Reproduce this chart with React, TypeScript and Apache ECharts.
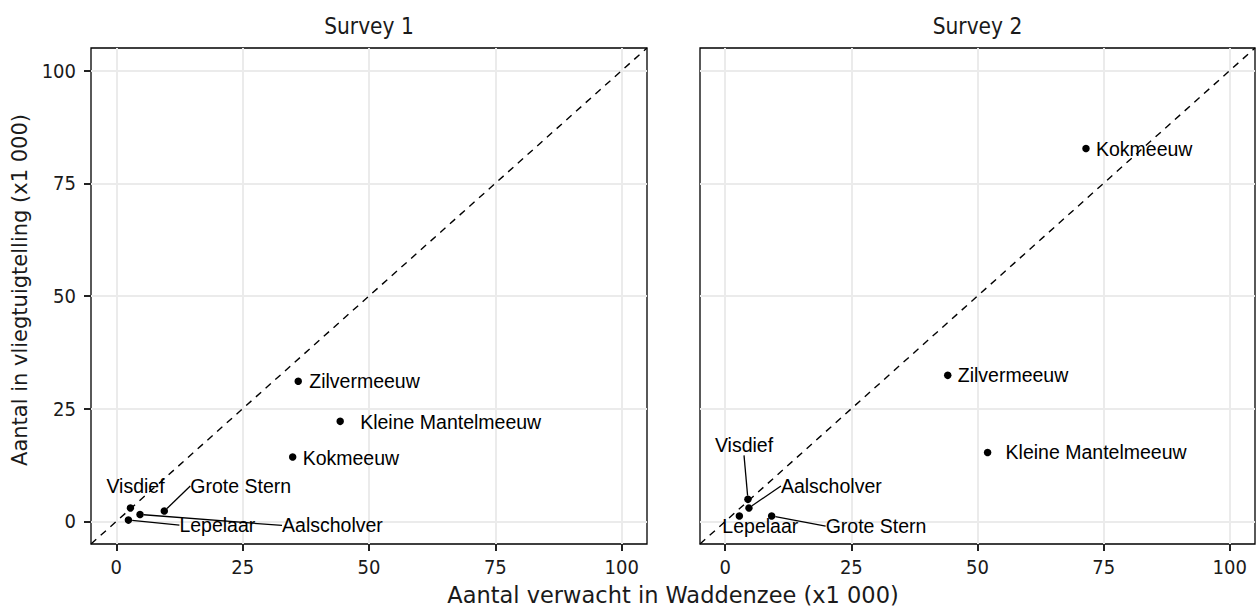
import React, { useEffect, useRef } from "react";
import * as echarts from "echarts";

// Axis range and tick positions shared by both panels (x1 000 birds)
const LIMITS = [-5, 105];
const TICKS = [0, 25, 50, 75, 100];

const SPECIES = [
  "Zilvermeeuw",
  "Kleine Mantelmeeuw",
  "Kokmeeuw",
  "Visdief",
  "Grote Stern",
  "Aalscholver",
  "Lepelaar",
];

// Survey 1: expected in the Waddenzee vs counted from the plane
const S1_EXPECTED = [36.0, 44.3, 34.9, 2.8, 9.5, 4.7, 2.4];
const S1_COUNTED = [31.1, 22.2, 14.3, 3.0, 2.3, 1.55, 0.3];

// Survey 2
const S2_EXPECTED = [44.1, 52.0, 71.5, 4.5, 9.2, 4.7, 2.8];
const S2_COUNTED = [32.4, 15.3, 82.7, 4.9, 1.2, 3.0, 1.2];

// Label placement (pixel offset from the point to the label's left-middle)
const S1_LABEL_OFFSET = [[11, 0], [20, 1], [10, 1], [-24, -22], [26, -25], [142, 11], [51, 5]];
const S2_LABEL_OFFSET = [[10, 0], [18, 0], [10, 0], [-33, -54], [54, 10], [32, -22], [-17, 10]];
const S1_LEADER = [false, false, false, false, true, true, true];
const S2_LEADER = [false, false, false, true, true, true, false];

const AXIS_FONT = "'DejaVu Sans Condensed', 'DejaVu Sans', sans-serif";
const TITLE_FONT = "'DejaVu Sans', sans-serif";
const LABEL_FONT = "'Liberation Sans', Arial, sans-serif";

const GRIDS = [
  { left: 91, top: 48, width: 556, height: 496 },
  { left: 700, top: 48, width: 555, height: 496 },
];

function pointSeries(
  idx: number,
  xs: number[],
  ys: number[],
  offsets: number[][],
  leaders: boolean[]
) {
  return {
    type: "scatter",
    xAxisIndex: idx,
    yAxisIndex: idx,
    symbol: "circle",
    symbolSize: 7.5,
    itemStyle: { color: "#000", opacity: 1 },
    z: 5,
    data: SPECIES.map((name, i) => ({
      name,
      value: [xs[i], ys[i]],
      labelLine: { show: leaders[i] },
    })),
    label: {
      show: true,
      formatter: "{b}",
      position: "right",
      align: "left",
      verticalAlign: "middle",
      fontFamily: LABEL_FONT,
      fontSize: 19.5,
      color: "#000",
    },
    labelLine: {
      show: false,
      length2: 0,
      lineStyle: { color: "#000", width: 1.3, opacity: 1 },
    },
    labelLayout: (params: any) => {
      const o = offsets[params.dataIndex];
      const r = params.rect;
      return {
        x: r.x + r.width / 2 + o[0],
        y: r.y + r.height / 2 + o[1],
      };
    },
  };
}

function diagonalSeries(idx: number) {
  return {
    type: "line",
    xAxisIndex: idx,
    yAxisIndex: idx,
    silent: true,
    symbol: "none",
    z: 3,
    lineStyle: { color: "#000", width: 1.4, type: [7, 6] },
    data: [
      [LIMITS[0], LIMITS[0]],
      [LIMITS[1], LIMITS[1]],
    ],
  };
}

function xAxis(idx: number) {
  return {
    type: "value",
    gridIndex: idx,
    position: "bottom",
    min: LIMITS[0],
    max: LIMITS[1],
    axisLine: { show: false, onZero: false },
    axisTick: {
      show: true,
      length: 7,
      customValues: TICKS,
      lineStyle: { color: "#222", width: 2 },
    },
    axisLabel: {
      customValues: TICKS,
      fontFamily: AXIS_FONT,
      fontSize: 20,
      color: "#1a1a1a",
      margin: 13,
    },
    splitLine: { show: true, lineStyle: { color: "#EBEBEB", width: 2 } },
  };
}

function yAxis(idx: number) {
  return {
    type: "value",
    gridIndex: idx,
    position: "left",
    min: LIMITS[0],
    max: LIMITS[1],
    axisLine: { show: false, onZero: false },
    axisTick: {
      show: idx === 0,
      length: 7,
      customValues: TICKS,
      lineStyle: { color: "#222", width: 2 },
    },
    axisLabel: {
      show: idx === 0,
      customValues: TICKS,
      fontFamily: AXIS_FONT,
      fontSize: 20,
      color: "#1a1a1a",
      margin: 15,
    },
    splitLine: { show: true, lineStyle: { color: "#EBEBEB", width: 2 } },
  };
}

export default function App() {
  const ref = useRef<HTMLDivElement>(null);

  useEffect(() => {
    if (!ref.current) return;
    const chart = echarts.init(ref.current, null, { renderer: "svg" });
    const titleStyle = {
      fontFamily: AXIS_FONT,
      fontSize: 22.5,
      fill: "#1a1a1a",
      textAlign: "center",
      textVerticalAlign: "middle",
    };
    chart.setOption({
      animation: false,
      backgroundColor: "#fff",
      grid: GRIDS.map((g) => ({
        ...g,
        show: true,
        borderColor: "#000",
        borderWidth: 1.3,
        backgroundColor: "#fff",
        containLabel: false,
      })),
      xAxis: [xAxis(0), xAxis(1)],
      yAxis: [yAxis(0), yAxis(1)],
      series: [
        diagonalSeries(0),
        diagonalSeries(1),
        pointSeries(0, S1_EXPECTED, S1_COUNTED, S1_LABEL_OFFSET, S1_LEADER),
        pointSeries(1, S2_EXPECTED, S2_COUNTED, S2_LABEL_OFFSET, S2_LEADER),
      ],
      graphic: [
        {
          type: "text",
          x: GRIDS[0].left + GRIDS[0].width / 2,
          y: 26,
          style: { ...titleStyle, text: "Survey 1" },
        },
        {
          type: "text",
          x: GRIDS[1].left + GRIDS[1].width / 2,
          y: 26,
          style: { ...titleStyle, text: "Survey 2" },
        },
        {
          type: "text",
          x: (GRIDS[0].left + GRIDS[1].left + GRIDS[1].width) / 2,
          y: 595,
          style: {
            ...titleStyle,
            fontFamily: TITLE_FONT,
            fontSize: 22.5,
            text: "Aantal verwacht in Waddenzee (x1 000)",
          },
        },
        {
          type: "text",
          x: 20,
          y: 290,
          rotation: Math.PI / 2,
          style: {
            ...titleStyle,
            fontFamily: TITLE_FONT,
            fontSize: 21,
            text: "Aantal in vliegtuigtelling (x1 000)",
          },
        },
      ],
    });
    return () => chart.dispose();
  }, []);

  return (
    <div
      ref={ref}
      style={{ position: "absolute", left: 0, top: 0, width: 1256, height: 608 }}
    />
  );
}
